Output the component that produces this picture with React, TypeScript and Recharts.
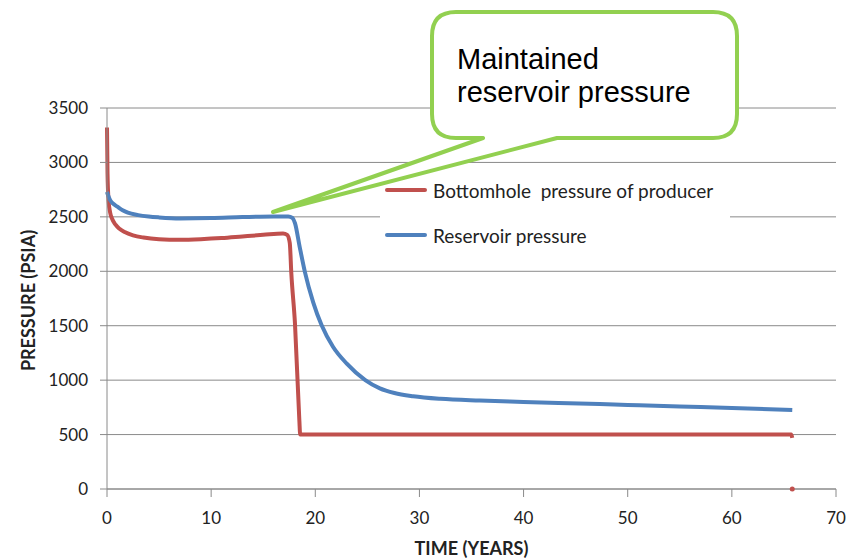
import React from 'react';
import {
  ComposedChart,
  Line,
  Scatter,
  XAxis,
  YAxis,
  CartesianGrid,
  Legend,
} from 'recharts';

// Bottomhole pressure of producer (years, psia)
const bhpTime = [0, 0.05, 0.15, 0.3, 0.5, 0.8, 1.2, 1.7, 2.5, 3.5, 5, 7, 9, 11, 13, 15, 16.9, 17.3, 17.55, 17.7, 18.05, 18.47, 18.55, 20, 30, 40, 50, 60, 65.7, 65.8];
const bhpValues = [3320, 2900, 2650, 2540, 2480, 2430, 2390, 2360, 2330, 2310, 2295, 2290, 2295, 2305, 2320, 2335, 2348, 2335, 2260, 1980, 1520, 630, 500, 500, 500, 500, 500, 500, 500, 470];

// Reservoir pressure (years, psia)
const resTime = [0, 0.1, 0.3, 0.6, 1, 1.5, 2, 3, 4, 5, 7, 10, 13, 16, 17.4, 17.8, 18.05, 18.5, 19.0, 19.8, 20.6, 21.7, 23.0, 24.8, 26.2, 27.6, 29.4, 32, 35.8, 40, 47.3, 50, 55, 60, 65.8];
const resValues = [2730, 2700, 2654, 2620, 2593, 2560, 2538, 2516, 2503, 2495, 2486, 2489, 2498, 2504, 2504, 2490, 2443, 2225, 1995, 1715, 1506, 1307, 1154, 1001, 925, 882, 852, 828, 812, 800, 780, 772, 758, 745, 725];

// stray last point of the producer series
const bhpTailTime = [65.8];
const bhpTailValues = [0];

const xTicks = [0, 10, 20, 30, 40, 50, 60, 70];
const yTicks = [0, 500, 1000, 1500, 2000, 2500, 3000, 3500];

const seriesNames = ['Bottomhole  pressure of producer', 'Reservoir pressure'];

const bhpData = bhpTime.map((t, i) => ({ t, p: bhpValues[i] }));
const resData = resTime.map((t, i) => ({ t, p: resValues[i] }));
const tailData = bhpTailTime.map((t, i) => ({ t, p: bhpTailValues[i] }));

const RED = '#C0504D';
const BLUE = '#4F81BD';
const GREEN = '#92D050';
const GRID = '#8a8a8a';
const TEXT = '#222';

const renderLegend = (props: any) => {
  const items = (props.payload || []).filter((e: any) => seriesNames.includes(e.value));
  return (
    <div style={{ background: '#fff', width: 350, height: 86, position: 'relative' }}>
      {items.map((entry: any, i: number) => (
        <div
          key={i}
          style={{
            position: 'absolute',
            left: 5,
            top: 8 + i * 45,
            height: 24,
            display: 'flex',
            alignItems: 'center',
            fontFamily: 'Lato, sans-serif',
            fontSize: 19,
            color: TEXT,
            whiteSpace: 'pre',
          }}
        >
          <span style={{ display: 'inline-block', width: 42, height: 4, background: entry.color, marginRight: 6, borderRadius: 2 }} />
          {entry.value}
        </div>
      ))}
    </div>
  );
};

const YLabel = ({ viewBox }: any) => {
  const cx = viewBox.x + 28;
  const cy = viewBox.y + viewBox.height / 2 + 2;
  return (
    <text x={cx} y={cy} transform={`rotate(-90 ${cx} ${cy})`} textAnchor="middle" dominantBaseline="central"
      style={{ fontFamily: 'Lato, sans-serif', fontWeight: 700, fontSize: 18, fill: TEXT }}>
      PRESSURE (PSIA)
    </text>
  );
};

const XLabel = ({ viewBox }: any) => {
  const cx = viewBox.x + viewBox.width / 2;
  const cy = viewBox.y + 59;
  return (
    <text x={cx} y={cy} textAnchor="middle" dominantBaseline="central"
      style={{ fontFamily: 'Lato, sans-serif', fontWeight: 700, fontSize: 18, fill: TEXT }}>
      TIME (YEARS)
    </text>
  );
};

// speech-bubble callout drawn over the chart
function Callout() {
  const l = 432, r = 737, t = 12, b = 138, rad = 24;
  const path = [
    `M ${l + rad} ${t}`,
    `L ${r - rad} ${t}`,
    `Q ${r} ${t} ${r} ${t + rad}`,
    `L ${r} ${b - rad}`,
    `Q ${r} ${b} ${r - rad} ${b}`,
    `L 557 ${b}`,
    `L 273 212`,
    `L 483 ${b}`,
    `L ${l + rad} ${b}`,
    `Q ${l} ${b} ${l} ${b - rad}`,
    `L ${l} ${t + rad}`,
    `Q ${l} ${t} ${l + rad} ${t}`,
    'Z',
  ].join(' ');
  const font = { fontFamily: '"Liberation Sans", Arial, sans-serif', fontSize: 29, fill: '#000' };
  return (
    <svg width={859} height={560} style={{ position: 'absolute', left: 0, top: 0, pointerEvents: 'none' }}>
      <path d={path} fill="#fff" stroke={GREEN} strokeWidth={4} strokeLinejoin="round" />
      <text x={457} y={69} style={font}>Maintained</text>
      <text x={457} y={102} style={font}>reservoir pressure</text>
    </svg>
  );
}

export default function App() {
  return (
    <div style={{ position: 'absolute', left: 0, top: 0, width: 859, height: 560, background: '#fff' }}>
      <ComposedChart width={859} height={560} margin={{ top: 108, right: 23, bottom: 0, left: 0 }}>
        <CartesianGrid vertical={false} stroke={GRID} strokeWidth={1} />
        <XAxis
          type="number"
          dataKey="t"
          domain={[0, 70]}
          ticks={xTicks}
          height={71}
          axisLine={{ stroke: GRID }}
          tickLine={{ stroke: GRID }}
          tickSize={8}
          tickMargin={15}
          tick={{ fill: TEXT, fontSize: 17, fontFamily: 'Lato, sans-serif' }}
          label={{ content: XLabel }}
          allowDuplicatedCategory={false}
        />
        <YAxis
          type="number"
          dataKey="p"
          domain={[0, 3500]}
          ticks={yTicks}
          width={107}
          axisLine={{ stroke: GRID }}
          tickLine={{ stroke: GRID }}
          tickSize={7}
          tickMargin={12}
          tick={{ fill: TEXT, fontSize: 17, fontFamily: 'Lato, sans-serif' }}
          label={{ content: YLabel }}
        />
        <Legend
          layout="horizontal"
          verticalAlign="middle"
          align="center"
          content={renderLegend}
          wrapperStyle={{ left: 380, top: 170, width: 350, height: 86 }}
        />
        <Line data={bhpData} dataKey="p" name={seriesNames[0]} type="monotone" stroke={RED} strokeWidth={4}
          dot={false} isAnimationActive={false} strokeLinejoin="round" />
        <Line data={resData} dataKey="p" name={seriesNames[1]} type="monotone" stroke={BLUE} strokeWidth={4}
          dot={false} isAnimationActive={false} strokeLinejoin="round" />
        <Scatter data={tailData} dataKey="p" fill={RED} legendType="none" isAnimationActive={false}
          shape={(p: any) => <circle cx={p.cx} cy={p.cy} r={2.5} fill={RED} />} />
      </ComposedChart>
      <Callout />
    </div>
  );
}
